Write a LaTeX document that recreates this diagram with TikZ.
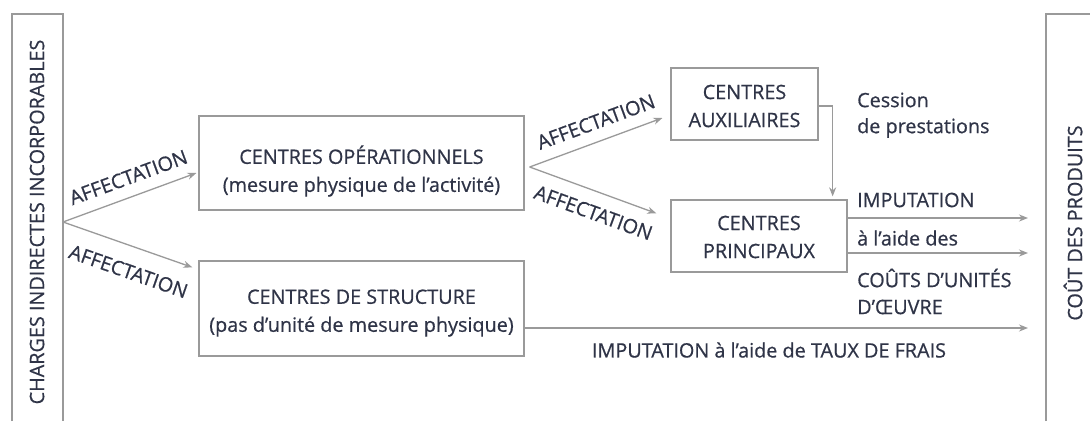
\documentclass[tikz,border=0pt]{standalone}
\usepackage{fontspec}
\setmainfont{Open Sans}[FakeBold=0.6]
\usetikzlibrary{arrows.meta,calc}
\definecolor{txt}{HTML}{2F3447}
\definecolor{ln}{HTML}{9A9A9A}
\begin{document}
\begin{tikzpicture}[x=1pt,y=-1pt,
  every node/.style={text=txt, font=\fontsize{19.8}{28}\selectfont},
  box/.style={draw=ln, line width=1.3pt, inner sep=0pt},
  btext/.style={align=center, inner sep=0pt},
  conn/.style={draw=ln, line width=1.3pt, -{Stealth[length=9pt,width=7pt]}},
  frame/.style={draw=ln, line width=1.3pt},
  lblup/.style={sloped, anchor=south, inner xsep=0pt, inner ysep=#1},
  lbldn/.style={sloped, anchor=north, inner xsep=0pt, inner ysep=#1},
  side/.style={anchor=west, inner sep=0pt}]
\useasboundingbox (0,0) rectangle (1090,421);
\fill[white] (0,0) rectangle (1090,421);

% frames
\draw[frame] (12,421) -- (12,14) -- (63,14) -- (63,421);
\node[rotate=90] (chg) at (37,222) {CHARGES INDIRECTES INCORPORABLES};
\draw[frame] (1046,421) -- (1046,14) -- (1092,14);
\node[rotate=90] (cout) at (1073,223) {COÛT DES PRODUITS};

% boxes
\node[box, minimum width=325pt, minimum height=94pt] (op) at (361.5,163) {};
\node[btext] (opt) at (361.5,171) {CENTRES OPÉRATIONNELS\\(mesure physique de l’activité)};
\node[box, minimum width=325pt, minimum height=95pt] (st) at (361.5,308.5) {};
\node[btext] (stt) at (361.5,313) {CENTRES DE STRUCTURE\\(pas d’unité de mesure physique)};
\node[box, minimum width=147pt, minimum height=72pt] (aux) at (744.5,104) {};
\node[btext] (auxt) at (744.5,106) {CENTRES\\AUXILIAIRES};
\node[box, minimum width=176pt, minimum height=72pt] (pr) at (759,236) {};
\node[btext] (prt) at (759,237) {CENTRES\\PRINCIPAUX};

% side texts
\node[side] (ces1) at (857,100) {Cession};
\node[side] (ces2) at (857,128) {de prestations};
\node[side] (imp1) at (857,200) {IMPUTATION};
\node[side] (imp2) at (857,238) {à l’aide des};
\node[side] (imp3) at (857,278) {COÛTS D’UNITÉS};
\node[side] (imp4) at (857,307) {D’ŒUVRE};
\node[anchor=center, inner sep=0pt] (taux) at (769,350) {IMPUTATION à l’aide de TAUX DE FRAIS};

% connector ends
\coordinate (L) at (63,222);
\coordinate (o) at ($(op.east)+(5,4)$);
\coordinate (r1) at (1028,218);
\coordinate (r2) at (1028,253);
\coordinate (r3) at (1028,328);

% connectors
\draw[conn] (L) -- ($(op.west)+(-2,10)$) node[pos=0.54, lblup=11.5pt] {AFFECTATION};
\draw[conn] (L) -- ($(st.north west)+(-6,7)$) node[pos=0.57, lbldn=17pt] {AFFECTATION};
\draw[conn] (o) -- ($(aux.west)+(-8,14)$) node[pos=0.55, lblup=11.5pt] {AFFECTATION};
\draw[conn] (o) -- ($(pr.north west)+(-14,14)$) node[pos=0.56, lbldn=13pt] {AFFECTATION};
\draw[conn, shorten >=3pt] ($(aux.east)+(0,2)$) -| ($(pr.north east)+(-15,0)$);
\draw[conn] ($(pr.east)+(0,-18)$) -- (r1);
\draw[conn] ($(pr.east)+(0,17)$) -- (r2);
\draw[conn] ($(st.east)+(0,19.5)$) -- (r3);
\end{tikzpicture}
\end{document}
